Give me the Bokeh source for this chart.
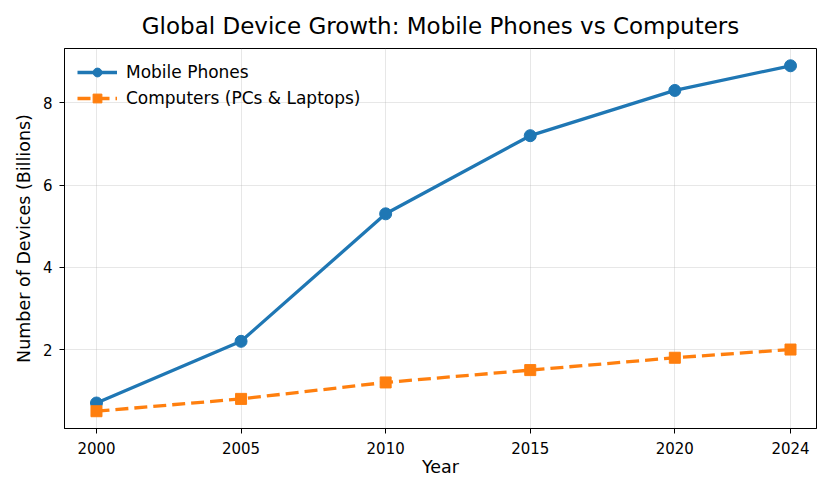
from bokeh.plotting import figure
from bokeh.models import FixedTicker, Range1d
from bokeh.embed import file_html
from bokeh.resources import INLINE

years = [2000, 2005, 2010, 2015, 2020, 2024]
mobile = [0.7, 2.2, 5.3, 7.2, 8.3, 8.9]
computers = [0.5, 0.8, 1.2, 1.5, 1.8, 2.0]
x_ticks = [2000, 2005, 2010, 2015, 2020, 2024]
y_ticks = [2, 4, 6, 8]

FONT = "DejaVu Sans"

p = figure(width=817, height=479, output_backend="svg", toolbar_location=None,
           x_range=Range1d(1998.894, 2024.899), y_range=Range1d(0.08, 9.32),
           title="Global Device Growth: Mobile Phones vs Computers",
           min_border_left=64, min_border_right=1, min_border_top=47, min_border_bottom=40)

p.title.align = "center"
p.title.text_font = FONT
p.title.text_font_size = "23px"
p.title.text_font_style = "normal"
p.title.text_color = "#000000"
p.title.standoff = 20

p.line(years, mobile, line_color="#1f77b4", line_width=3.3, legend_label="Mobile Phones")
p.scatter(years, mobile, marker="circle", size=12, fill_color="#1f77b4", line_color="#1f77b4",
          legend_label="Mobile Phones")
p.line(years, computers, line_color="#ff7f0e", line_width=3.3, line_dash="13 6",
       legend_label="Computers (PCs & Laptops)")
p.scatter(years, computers, marker="square", size=11, fill_color="#ff7f0e", line_color="#ff7f0e",
          legend_label="Computers (PCs & Laptops)")

p.xaxis.ticker = FixedTicker(ticks=x_ticks)
p.yaxis.ticker = FixedTicker(ticks=y_ticks)
p.xaxis.axis_label = "Year"
p.yaxis.axis_label = "Number of Devices (Billions)"
for ax in (p.xaxis, p.yaxis):
    ax.axis_label_text_font = FONT
    ax.axis_label_text_font_size = "17.5px"
    ax.axis_label_text_font_style = "normal"
    ax.axis_label_text_color = "#000000"
    ax.major_label_text_font = FONT
    ax.major_label_text_font_size = "15px"
    ax.major_label_text_color = "#000000"
    ax.axis_line_color = "#000000"
    ax.major_tick_line_color = "#000000"
    ax.major_tick_out = 5
    ax.major_tick_in = 0
    ax.minor_tick_line_color = None
p.xaxis.major_label_standoff = 8
p.xaxis.axis_label_standoff = 0
p.yaxis.major_label_standoff = 7
p.yaxis.axis_label_standoff = 6

p.grid.grid_line_color = "#b0b0b0"
p.grid.grid_line_alpha = 0.3
p.outline_line_color = "#000000"
p.outline_line_alpha = 1.0
p.outline_line_width = 1

p.legend.location = "top_left"
p.legend.border_line_alpha = 0
p.legend.background_fill_alpha = 0
p.legend.label_text_font = FONT
p.legend.label_text_font_size = "17px"
p.legend.label_text_color = "#000000"
p.legend.glyph_width = 40
p.legend.glyph_height = 22
p.legend.label_height = 22
p.legend.label_standoff = 9
p.legend.spacing = 4
p.legend.margin = 8
p.legend.padding = 5

open("out.html", "w").write(file_html(p, INLINE))
